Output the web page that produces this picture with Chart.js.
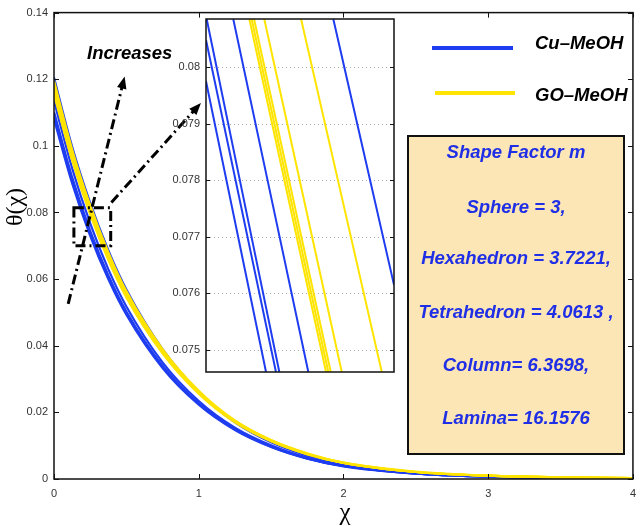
<!DOCTYPE html>
<html>
<head>
<meta charset="utf-8">
<script src="https://cdn.jsdelivr.net/npm/chart.js@4.4.0/dist/chart.umd.min.js"></script>
<style>
body{margin:0;background:#fff;}
#wrap{position:relative;width:644px;height:526px;overflow:hidden;font-family:"Liberation Sans",Arial,sans-serif;}
#main{position:absolute;left:0;top:0;}
#inset{position:absolute;left:150px;top:0;}
.bi{position:absolute;font-weight:bold;font-style:italic;white-space:nowrap;line-height:20px;font-size:18.5px;}
.leg{position:absolute;height:4px;}
#box{position:absolute;left:407px;top:135px;width:218px;height:320px;box-sizing:border-box;border:2px solid #111;background:#fde6b6;}
#box .bi{left:0;width:214px;text-align:center;color:#1f2fe6;}
.ttl{position:absolute;font-family:"Liberation Serif","DejaVu Serif",serif;white-space:nowrap;}
</style>
</head>
<body>
<div id="wrap">
<canvas id="main" width="644" height="526"></canvas>
<canvas id="inset" width="250" height="390"></canvas>

<div class="leg" style="left:432px;top:46px;width:81px;background:#1f3df0;"></div>
<div class="bi" style="left:535px;top:33px;">Cu–MeOH</div>
<div class="leg" style="left:435px;top:91px;width:80px;background:#ffe400;"></div>
<div class="bi" style="left:535px;top:85px;">GO–MeOH</div>

<div class="bi" style="left:87px;top:43px;">Increases</div>

<div id="box">
  <div class="bi" style="top:5px;">Shape Factor m</div>
  <div class="bi" style="top:60px;">Sphere = 3,</div>
  <div class="bi" style="top:111px;">Hexahedron = 3.7221,</div>
  <div class="bi" style="top:165px;">Tetrahedron = 4.0613 ,</div>
  <div class="bi" style="top:218px;">Column= 6.3698,</div>
  <div class="bi" style="top:271px;">Lamina= 16.1576</div>
</div>

<div class="ttl" style="left:-11px;top:193px;width:50px;text-align:center;font-size:24px;line-height:28px;transform:rotate(-90deg);">θ(χ)</div>
<div class="ttl" style="left:333px;top:498px;width:24px;text-align:center;font-size:25px;">χ</div>
</div>

<script>
// main plot data
const chi = [0, 0.125, 0.25, 0.375, 0.5, 0.75, 1, 1.25, 1.5, 1.75, 2, 2.5, 3, 3.5, 4];

const cuSphere = [0.1080, 0.0888, 0.0730, 0.0600, 0.0493, 0.0333, 0.0223, 0.0147, 0.0096, 0.0061, 0.0038, 0.0016, 0.0007, 0.0003, 0.0001];
const cuHexa   = [0.1095, 0.0900, 0.0740, 0.0608, 0.0500, 0.0338, 0.0226, 0.0149, 0.0097, 0.0062, 0.0039, 0.0016, 0.0007, 0.0003, 0.0001];
const cuTetra  = [0.1102, 0.0906, 0.0745, 0.0612, 0.0503, 0.0340, 0.0227, 0.0150, 0.0098, 0.0062, 0.0039, 0.0016, 0.0007, 0.0003, 0.0001];
const cuColumn = [0.1135, 0.0933, 0.0767, 0.0630, 0.0518, 0.0350, 0.0234, 0.0154, 0.0101, 0.0064, 0.0040, 0.0017, 0.0007, 0.0003, 0.0001];
const cuLamina = [0.1205, 0.0998, 0.0829, 0.0687, 0.0569, 0.0390, 0.0262, 0.0170, 0.0110, 0.0070, 0.0043, 0.0018, 0.0008, 0.0003, 0.0001];

const goSphere = [0.1155, 0.0957, 0.0794, 0.0658, 0.0545, 0.0377, 0.0256, 0.0170, 0.0113, 0.0074, 0.0048, 0.0021, 0.0010, 0.0005, 0.0003];
const goHexa   = [0.1162, 0.0962, 0.0799, 0.0662, 0.0549, 0.0379, 0.0257, 0.0172, 0.0114, 0.0075, 0.0048, 0.0021, 0.0010, 0.0005, 0.0003];
const goTetra  = [0.1168, 0.0967, 0.0803, 0.0666, 0.0551, 0.0381, 0.0259, 0.0172, 0.0114, 0.0075, 0.0048, 0.0021, 0.0010, 0.0005, 0.0003];
const goColumn = [0.1180, 0.0977, 0.0811, 0.0673, 0.0557, 0.0385, 0.0261, 0.0174, 0.0116, 0.0076, 0.0049, 0.0021, 0.0010, 0.0005, 0.0003];
const goLamina = [0.1195, 0.0990, 0.0822, 0.0681, 0.0564, 0.0390, 0.0265, 0.0176, 0.0117, 0.0077, 0.0049, 0.0022, 0.0010, 0.0005, 0.0003];

const xTicks = [0, 1, 2, 3, 4];
const yTicks = [0, 0.02, 0.04, 0.06, 0.08, 0.1, 0.12, 0.14];

// zoomed inset: each line as [chi, theta] start and end
const insetCu = [
  [[0.1905, 0.08085], [0.2446, 0.07461]],
  [[0.1900, 0.08048], [0.2421, 0.07461]],
  [[0.1900, 0.07975], [0.2347, 0.07461]],
  [[0.2103, 0.08085], [0.2662, 0.07461]],
  [[0.2848, 0.08085], [0.3300, 0.07615]]
];
const insetGo = [
  [[0.2223, 0.08085], [0.2794, 0.07461]],
  [[0.2240, 0.08085], [0.2811, 0.07461]],
  [[0.2258, 0.08085], [0.2829, 0.07461]],
  [[0.2334, 0.08085], [0.2911, 0.07461]],
  [[0.2608, 0.08085], [0.3209, 0.07461]]
];
const insetTicks = [0.075, 0.076, 0.077, 0.078, 0.079, 0.08];

// dashed box and arrows, in data units of the main plot
const boxChi = [0.1375, 0.3918];
const boxTheta = [0.0700, 0.0814];
const arrows = [
  [[0.098, 0.0526], [0.488, 0.1208]],
  [[0.3966, 0.0830], [1.015, 0.1129]]
];

const BLUE = '#1f3df0';
const YELLOW = '#ffe400';

Chart.defaults.font.family = '"Liberation Sans", Arial, sans-serif';
Chart.defaults.font.size = 11;
Chart.defaults.color = '#333';

function pts(vals){
  return vals.map((v, i) => ({x: chi[i], y: v}));
}

function lineSet(data, color, w){
  return {data: data, borderColor: color, borderWidth: w, pointRadius: 0, showLine: true,
          fill: false, cubicInterpolationMode: 'monotone'};
}

// frame + inward ticks like matlab
function framePlugin(tlen, all4){
  return {
    id: 'frame',
    afterDraw(chart){
      const c = chart.ctx, a = chart.chartArea, sx = chart.scales.x, sy = chart.scales.y;
      c.save();
      c.strokeStyle = '#111';
      c.lineWidth = 1.5;
      c.strokeRect(a.left, a.top, a.right - a.left, a.bottom - a.top);
      c.lineWidth = 1;
      c.beginPath();
      sy.ticks.forEach(t => {
        const y = Math.round(sy.getPixelForValue(t.value)) + 0.5;
        c.moveTo(a.left, y); c.lineTo(a.left + tlen, y);
        c.moveTo(a.right, y); c.lineTo(a.right - tlen, y);
      });
      if (all4) {
        sx.ticks.forEach(t => {
          const x = Math.round(sx.getPixelForValue(t.value)) + 0.5;
          c.moveTo(x, a.bottom); c.lineTo(x, a.bottom - tlen);
          c.moveTo(x, a.top); c.lineTo(x, a.top + tlen);
        });
      }
      c.stroke();
      c.restore();
    }
  };
}

function drawArrow(c, x1, y1, x2, y2){
  const ang = Math.atan2(y2 - y1, x2 - x1);
  const hl = 13;
  c.beginPath();
  c.moveTo(x1, y1);
  c.lineTo(x2 - hl * 0.7 * Math.cos(ang), y2 - hl * 0.7 * Math.sin(ang));
  c.stroke();
  c.save();
  c.setLineDash([]);
  c.beginPath();
  c.moveTo(x2, y2);
  c.lineTo(x2 - hl * Math.cos(ang - 0.38), y2 - hl * Math.sin(ang - 0.38));
  c.lineTo(x2 - hl * Math.cos(ang + 0.38), y2 - hl * Math.sin(ang + 0.38));
  c.closePath();
  c.fill();
  c.restore();
}

const marks = {
  id: 'marks',
  afterDatasetsDraw(chart){
    const c = chart.ctx, sx = chart.scales.x, sy = chart.scales.y;
    c.save();
    c.strokeStyle = '#000';
    c.fillStyle = '#000';
    c.lineWidth = 3;
    c.setLineDash([10, 4, 2, 4]);
    const x1 = sx.getPixelForValue(boxChi[0]), x2 = sx.getPixelForValue(boxChi[1]);
    const y1 = sy.getPixelForValue(boxTheta[1]), y2 = sy.getPixelForValue(boxTheta[0]);
    c.strokeRect(x1, y1, x2 - x1, y2 - y1);
    arrows.forEach(ar => {
      drawArrow(c, sx.getPixelForValue(ar[0][0]), sy.getPixelForValue(ar[0][1]),
                   sx.getPixelForValue(ar[1][0]), sy.getPixelForValue(ar[1][1]));
    });
    c.restore();
  }
};

const mainSets = [
  lineSet(pts(goLamina), YELLOW, 2.2),
  lineSet(pts(goColumn), YELLOW, 2.2),
  lineSet(pts(goTetra), YELLOW, 2.2),
  lineSet(pts(goHexa), YELLOW, 2.2),
  lineSet(pts(goSphere), YELLOW, 2.2),
  lineSet(pts(cuLamina), BLUE, 2.2),
  lineSet(pts(cuColumn), BLUE, 2.2),
  lineSet(pts(cuTetra), BLUE, 2.2),
  lineSet(pts(cuHexa), BLUE, 2.2),
  lineSet(pts(cuSphere), BLUE, 2.2)
];

new Chart(document.getElementById('main'), {
  type: 'scatter',
  data: {datasets: mainSets},
  options: {
    responsive: false,
    devicePixelRatio: 1,
    animation: false,
    layout: {padding: {top: 11, right: 8, left: 0, bottom: 0}},
    plugins: {legend: {display: false}, tooltip: {enabled: false}},
    scales: {
      x: {
        type: 'linear', min: 0, max: 4,
        grid: {display: false, drawTicks: false},
        border: {display: false},
        afterBuildTicks: s => { s.ticks = xTicks.map(v => ({value: v})); },
        afterFit: s => { s.height = 47; },
        ticks: {padding: 8, maxRotation: 0, callback: v => String(v)}
      },
      y: {
        type: 'linear', min: 0, max: 0.14,
        grid: {display: false, drawTicks: false},
        border: {display: false},
        afterBuildTicks: s => { s.ticks = yTicks.map(v => ({value: v})); },
        afterFit: s => { s.width = 54; },
        ticks: {padding: 6, callback: v => String(+v.toFixed(2))}
      }
    }
  },
  plugins: [marks, framePlugin(5, true)]
});

// inset chart
const insetSets = [];
insetGo.forEach(l => insetSets.push(lineSet([{x: l[0][0], y: l[0][1]}, {x: l[1][0], y: l[1][1]}], YELLOW, 2)));
insetCu.forEach(l => insetSets.push(lineSet([{x: l[0][0], y: l[0][1]}, {x: l[1][0], y: l[1][1]}], BLUE, 2)));

const insetBg = {
  id: 'insetBg',
  beforeDatasetsDraw(chart){
    const c = chart.ctx, a = chart.chartArea, sy = chart.scales.y;
    c.save();
    c.fillStyle = '#fff';
    c.fillRect(a.left, a.top, a.right - a.left, a.bottom - a.top);
    c.strokeStyle = '#aaa';
    c.lineWidth = 1;
    c.setLineDash([1, 3]);
    c.beginPath();
    sy.ticks.forEach(t => {
      const y = Math.round(sy.getPixelForValue(t.value)) + 0.5;
      c.moveTo(a.left, y); c.lineTo(a.right, y);
    });
    c.stroke();
    c.restore();
  }
};

new Chart(document.getElementById('inset'), {
  type: 'scatter',
  data: {datasets: insetSets},
  options: {
    responsive: false,
    devicePixelRatio: 1,
    animation: false,
    layout: {padding: {top: 19, right: 6, left: 0, bottom: 18}},
    plugins: {legend: {display: false}, tooltip: {enabled: false}},
    scales: {
      x: {type: 'linear', min: 0.19, max: 0.33, display: false},
      y: {
        type: 'linear', min: 0.07461, max: 0.08085,
        grid: {display: false, drawTicks: false},
        border: {display: false},
        afterBuildTicks: s => { s.ticks = insetTicks.map(v => ({value: v})); },
        afterFit: s => { s.width = 56; },
        ticks: {padding: 6, callback: v => String(+v.toFixed(3))}
      }
    }
  },
  plugins: [insetBg, framePlugin(4, false)]
});
</script>
</body>
</html>
